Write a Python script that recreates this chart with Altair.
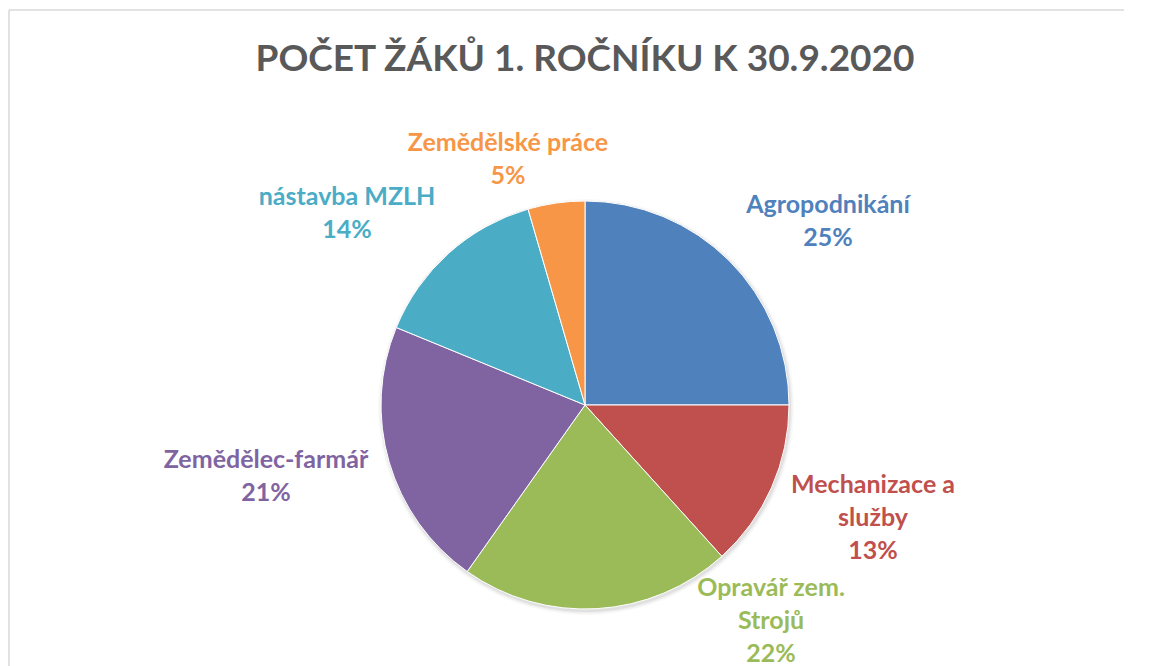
import altair as alt
import pandas as pd

# ---- data ----
title_text = "POČET ŽÁKŮ 1. ROČNÍKU K 30.9.2020"
categories = ["Agropodnikání", "Mechanizace a služby", "Opravář zem. Strojů",
              "Zemědělec-farmář", "nástavba MZLH", "Zemědělské práce"]
label_text = ["Agropodnikání", "Mechanizace a\nslužby", "Opravář zem.\nStrojů",
              "Zemědělec-farmář", "nástavba MZLH", "Zemědělské práce"]
shares = [25.0, 13.3, 21.5, 21.4, 14.3, 4.5]   # percent of pupils
colors = ["#4F81BD", "#C0504D", "#9BBB59", "#8064A2", "#4BACC6", "#F79646"]

# ---- layout (not data) ----
W, H = 1115, 656
CX, CY, R = 576, 395, 204
# position of the first text line of each label
label_pos = {
    "Agropodnikání": (819, 195),
    "Mechanizace a služby": (864, 475),
    "Opravář zem. Strojů": (762, 578),
    "Zemědělec-farmář": (257, 450),
    "nástavba MZLH": (338, 187),
    "Zemědělské práce": (499, 133),
}
FONT = "Lato"

df = pd.DataFrame({
    "idx": list(range(len(categories))),
    "category": categories,
    "label": label_text,
    "share": shares,
})

color_scale = alt.Scale(domain=categories, range=colors)
base = alt.Chart(df)

# soft shadow behind the pie
shadow = [
    base.mark_arc(outerRadius=R + rr, color="#000000", opacity=op).encode(
        theta=alt.Theta("share:Q", stack=True),
        order=alt.Order("idx:Q"),
        x=alt.value(CX + 1), y=alt.value(CY + 2),
    )
    for rr, op in [(4, 0.025), (2.5, 0.04), (1, 0.06)]
]

pie = base.mark_arc(outerRadius=R, stroke="white", strokeWidth=1).encode(
    theta=alt.Theta("share:Q", stack=True),
    color=alt.Color("category:N", scale=color_scale, legend=None),
    order=alt.Order("idx:Q"),
    x=alt.value(CX),
    y=alt.value(CY),
)

labels = []
for c in categories:
    px, py = label_pos[c]
    labels.append(
        base.transform_filter(alt.datum.category == c)
        .transform_calculate(txt='datum.label + "\\n" + round(datum.share) + "%"')
        .mark_text(font=FONT, fontSize=25, fontWeight="bold", lineBreak="\n",
                   lineHeight=33, align="center", baseline="middle")
        .encode(
            text="txt:N",
            color=alt.Color("category:N", scale=color_scale, legend=None),
            x=alt.value(px),
            y=alt.value(py),
        )
    )

title_layer = alt.Chart(alt.Data(values=[{"t": title_text}])).mark_text(
    font=FONT, fontSize=37, fontWeight="bold", color="#595959",
    align="center", baseline="middle",
).encode(text="t:N", x=alt.value(CX), y=alt.value(50))

border_top = alt.Chart(alt.Data(values=[{"t": 0}])).mark_rule(
    color="#D9D9D9", strokeWidth=1.5
).encode(x=alt.value(0), x2=alt.value(W), y=alt.value(0))
border_left = alt.Chart(alt.Data(values=[{"t": 0}])).mark_rule(
    color="#D9D9D9", strokeWidth=1.5
).encode(x=alt.value(0), y=alt.value(0), y2=alt.value(H))

chart = alt.layer(border_top, border_left, *shadow, pie, *labels, title_layer).properties(
    width=W, height=H,
    padding={"left": 1, "top": 2, "right": 0, "bottom": 0},
    autosize=alt.AutoSizeParams(type="none"),
).configure_view(strokeWidth=0)

chart.save("out.html", embed_options={"renderer": "svg", "actions": False})
